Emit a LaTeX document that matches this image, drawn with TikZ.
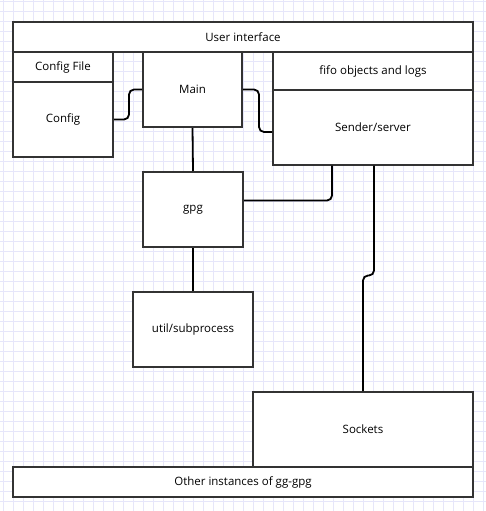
\documentclass[tikz,border=0pt]{standalone}
\usepackage{fontspec}
\setmainfont{Open Sans}
\definecolor{gridc}{RGB}{230,230,250}
\definecolor{boxgray}{RGB}{51,51,51}
\begin{document}
\begin{tikzpicture}[x=1pt,y=-1pt,
  blk/.style={draw=boxgray, line width=2pt, fill=white, inner sep=0pt,
    font=\fontsize{11.5}{13}\selectfont},
  wire/.style={draw=black, line width=1.8pt, rounded corners=5pt}]
\useasboundingbox (0,0) rectangle (486,511);
\fill[white] (0,0) rectangle (486,511);
\begin{scope}
\clip (0,0) rectangle (486,511);
\draw[gridc, line width=0.8pt, shift={(3.3,1.7)}, xstep=10pt, ystep=10pt] (-10,-10) grid (490,520);
\end{scope}

% upper row
\node[blk, minimum width=460, minimum height=30] (ui) at (243,37) {User interface};
\node[blk, minimum width=100, minimum height=30] (cfgfile) at (63,67) {Config File};
\node[blk, minimum width=100, minimum height=75] (cfg) at (63,119.5) {Config};
\node[blk, minimum width=99, minimum height=75] (main) at (192.5,89.5) {Main};
\node[blk, minimum width=200, minimum height=37.5] (fifo) at (373,71) {fifo objects and logs};
\node[blk, minimum width=200, minimum height=75] (sender) at (373,127) {Sender/server};

% middle and lower part
\node[blk, minimum width=100, minimum height=75] (gpg) at (193,209.5) {gpg};
\node[blk, minimum width=120, minimum height=75] (util) at (193,329.5) {util/subprocess};
\node[blk, minimum width=220, minimum height=75] (sockets) at (363,429.5) {Sockets};
\node[blk, minimum width=460, minimum height=30] (others) at (243,482) {Other instances of gg-gpg};

% connectors
\draw[wire] (cfg.east) -- ++(15,0) |- (main.west);
\draw[wire] (main.east) -- ++(16,0) |- ([yshift=-5pt]sender.west);
\draw[wire] (main.south) -- (gpg.north);
\draw[wire] ([yshift=9pt]gpg.east) -| ([xshift=-41pt]sender.south);
\draw[wire] ([xshift=1pt]sender.south) -- ++(0,110) -| (sockets.north);
\draw[wire] (gpg.south) -- (util.north);
\end{tikzpicture}
\end{document}
